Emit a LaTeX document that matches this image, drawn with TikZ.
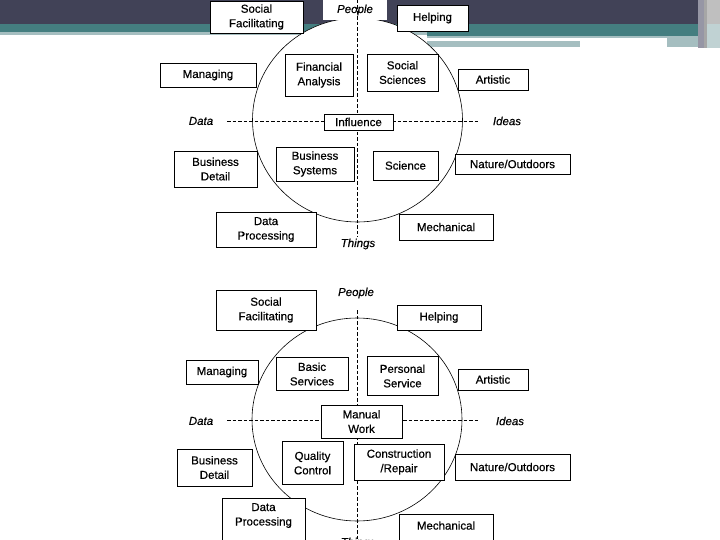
\documentclass[tikz,border=0pt]{standalone}
\usepackage{fontspec}
\setmainfont{Liberation Sans}[BoldFont=Liberation Sans, BoldFeatures={FakeBold=0.5}, BoldItalicFont=Liberation Sans Italic, BoldItalicFeatures={FakeBold=0.5}]
\usetikzlibrary{shapes.geometric}
\definecolor{banddark}{RGB}{65,66,87}
\definecolor{bandteal}{RGB}{68,126,128}
\definecolor{bandlight}{RGB}{165,190,192}
\definecolor{bandgrey}{RGB}{150,150,165}
\tikzset{
  box/.style={draw=black, line width=0.9pt, fill=white, align=center, inner sep=0pt,
    font=\fontsize{11.5}{14.5}\selectfont\bfseries},
  txt/.style={align=center, inner sep=0pt, font=\fontsize{11.5}{14.5}\selectfont\bfseries},
  italic/.style={inner sep=0pt, font=\fontsize{11.5}{14.5}\selectfont\bfseries\itshape},
  dashaxis/.style={draw=black, line width=0.7pt, dash pattern=on 3.5pt off 2pt},
  ring/.style={draw=black, line width=0.6pt, fill=white}
}
\begin{document}
\begin{tikzpicture}[x=1pt,y=-1pt]
\useasboundingbox (0,0) rectangle (720,540);
\fill[white] (0,0) rectangle (720,540);
% ---- header band ----
\fill[banddark] (0,0) rectangle (720,24);
\fill[bandteal] (0,24) rectangle (427,32);
\fill[bandlight] (0,32) rectangle (427,35.5);
\fill[bandteal] (427,24) rectangle (720,36);
\fill[bandlight] (427,36) rectangle (667,38);
\fill[bandlight] (427,41) rectangle (580,47);
\fill[bandlight] (667,36) rectangle (707,47);
\fill[bandgrey] (698,0) rectangle (704,48);
\fill[black!35] (704,0) rectangle (707,48);
\fill[black!25] (707,0) rectangle (720,24);
\fill[bandlight!70] (707,24) rectangle (720,48);
% ---- top diagram ----
\node[ring, ellipse, minimum width=210pt, minimum height=204pt, inner sep=0pt] (c1) at (357.5,120) {};
\fill[white] (323,0) rectangle (387,20);
\coordinate (v1a) at (357,0);
\coordinate (v1b) at (357,237);
\coordinate (h1a) at (227,121);
\coordinate (h1b) at (478,121);
\draw[dashaxis] (v1a) -- (v1b);
\draw[dashaxis] (h1a) -- (h1b);
\node[italic] (pe1) at (355,10) {People};
\node[italic] (da1) at (201,121) {Data};
\node[italic] (id1) at (507,121) {Ideas};
\node[italic] (th1) at (358,244) {Things};
\node[box, minimum width=93pt, minimum height=32pt] (sf1) at (256.5,17) {Social\\Facilitating};
\node[box, minimum width=71pt, minimum height=26pt] (he1) at (432.5,18) {Helping};
\node[box, minimum width=96pt, minimum height=24pt] (ma1) at (208,75) {Managing};
\node[box, minimum width=68pt, minimum height=42pt] (fa1) at (319,75) {Financial\\Analysis};
\node[box, minimum width=71pt, minimum height=37pt] (ss1) at (402.5,72.5) {Social\\Sciences};
\node[box, minimum width=70pt, minimum height=21pt] (ar1) at (493,79.5) {Artistic};
\node[box, minimum width=69pt, minimum height=16pt] (in1) at (358.5,122) {Influence};
\node[box, minimum width=83pt, minimum height=36pt] (bd1) at (215.5,169) {Business\\Detail};
\node[box, minimum width=78pt, minimum height=34pt] (bs1) at (315,164) {Business\\Systems};
\node[box, minimum width=65pt, minimum height=29pt] (sc1) at (405.5,165.5) {Science};
\node[box, minimum width=115pt, minimum height=20pt] (no1) at (512.5,164) {Nature/Outdoors};
\node[box, minimum width=100pt, minimum height=35pt] (dp1) at (266,229.5) {Data\\Processing};
\node[box, minimum width=94pt, minimum height=26pt] (me1) at (446,227) {Mechanical};
% ---- bottom diagram ----
\node[ring, ellipse, minimum width=210pt, minimum height=203pt, inner sep=0pt] (c2) at (357,419.5) {};
\coordinate (v2a) at (357,310);
\coordinate (v2b) at (357,540);
\coordinate (h2a) at (227,420);
\coordinate (h2b) at (478,420);
\draw[dashaxis] (v2a) -- (v2b);
\draw[dashaxis] (h2a) -- (h2b);
\node[italic] (pe2) at (356,293) {People};
\node[italic] (da2) at (201,421) {Data};
\node[italic] (id2) at (510,421) {Ideas};
\node[italic] (th2) at (358,543) {Things};
\node[box, minimum width=100pt, minimum height=40pt] (sf2) at (266,310) {Social\\Facilitating};
\node[box, minimum width=84pt, minimum height=25pt] (he2) at (439,317.5) {Helping};
\node[box, minimum width=72pt, minimum height=24pt] (ma2) at (222,372) {Managing};
\node[box, minimum width=72pt, minimum height=33pt] (bs2) at (312,374) {Basic\\Services};
\node[box, minimum width=71pt, minimum height=39pt] (ps2) at (402.5,376) {Personal\\Service};
\node[box, minimum width=70pt, minimum height=21pt] (ar2) at (493,379.5) {Artistic};
\node[box, minimum width=81pt, minimum height=33pt] (mw2) at (361.5,421.5) {Manual\\Work};
\node[box, minimum width=75pt, minimum height=37pt] (bd2) at (214.5,467.5) {Business\\Detail};
\node[box, minimum width=61pt, minimum height=43pt] (qc2) at (312.5,463) {Quality\\Control};
\node[box, minimum width=90pt, minimum height=36pt] (cr2) at (399,462) {Construction\\/Repair};
\node[box, minimum width=115pt, minimum height=26pt] (no2) at (512.5,467) {Nature/Outdoors};
\node[box, minimum width=83pt, minimum height=48pt] (dp2) at (263.5,522) {};
\node[txt] (dp2t) at (263.5,515.5) {Data\\Processing};
\node[box, minimum width=94pt, minimum height=34pt] (me2) at (446,531) {};
\node[txt] (me2t) at (446,525.5) {Mechanical};
\end{tikzpicture}
\end{document}
